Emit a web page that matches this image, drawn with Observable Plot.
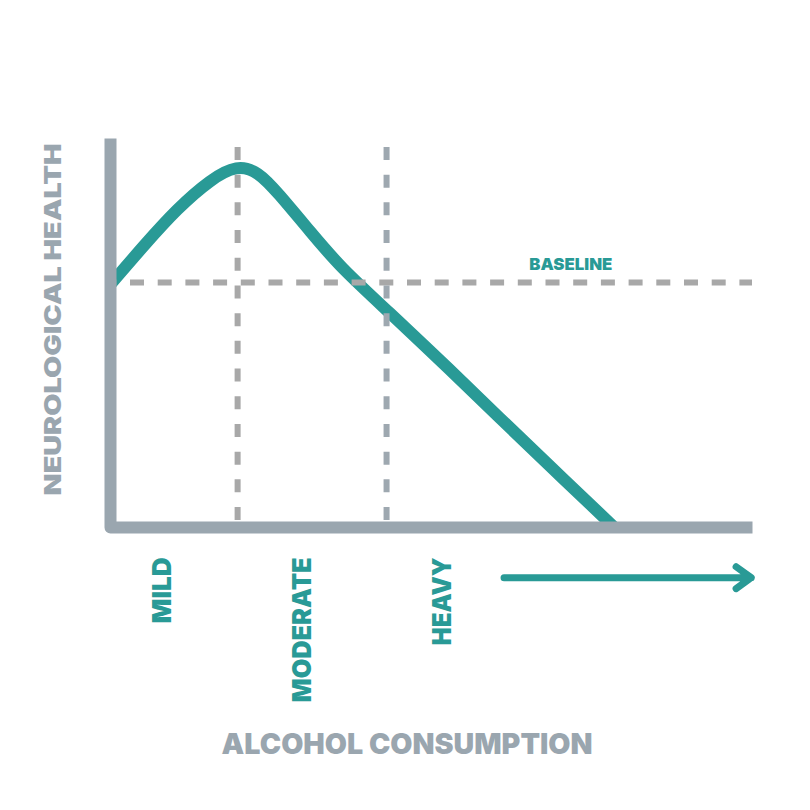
<!DOCTYPE html>
<html><head><meta charset="utf-8">
<script src="https://cdn.jsdelivr.net/npm/d3@7"></script>
<script src="https://cdn.jsdelivr.net/npm/@observablehq/plot@0.6"></script>
<style>body{margin:0;background:#fff}</style>
</head><body><div id="chart"></div>
<script>
// Curve: neurological health vs alcohol consumption (arbitrary units 0–10)
const curveX = [0, 0.52, 1.04, 1.56, 1.97, 2.30, 2.60, 3.12, 3.58, 4.31, 5.30, 6.07, 6.85, 7.85];
const curveY = [6.25, 7.25, 8.20, 8.95, 9.32, 9.15, 8.62, 7.59, 6.69, 5.58, 4.04, 2.80, 1.57, 0];
const categories = ["MILD", "MODERATE", "HEAVY"];
const categoryX = [0.81, 3.0, 5.18];
const categoryY = -0.77;
const markerX = [1.98, 4.30];
const markerTop = 9.77;
const baselineY = 6.30;
const baselineLabel = "BASELINE";
const baselineLabelPos = [7.17, 6.76];
const axisPathX = [0, 0, 10];
const axisPathY = [10, 0, 0];
const arrowX = [6.13, 9.98];
const arrowY = -1.29;
const xTitle = "ALCOHOL CONSUMPTION";
const xTitlePos = [4.62, -5.59];
const yTitle = "NEUROLOGICAL HEALTH";
const yTitlePos = [-0.88, 5.35];

const teal = "#299a96";
const axisGray = "#9aa6af";
const dashGray = "#a8a8a8";
const font = "Inter, Lato, 'DejaVu Sans', sans-serif";

const curve = curveX.map((x, i) => ({x, y: curveY[i]}));
const axisPath = axisPathX.map((x, i) => ({x, y: axisPathY[i]}));
const cats = categories.map((c, i) => ({label: c, x: categoryX[i], y: categoryY}));

const plot = Plot.plot({
  width: 810, height: 810,
  marginTop: 0, marginRight: 0, marginBottom: 0, marginLeft: 0,
  x: {domain: [0, 10], range: [110, 752]},
  y: {domain: [0, 10], range: [527, 138]},
  axis: null,
  style: {background: "#fff", fontFamily: font},
  marks: [
    Plot.line(curve, {x: "x", y: "y", curve: "basis", stroke: teal, strokeWidth: 12, strokeLinecap: "butt"}),
    Plot.ruleY([baselineY], {y: d => d, x1: () => 0, x2: () => 10, stroke: dashGray, strokeWidth: 6, strokeDasharray: "14,13.7", strokeDashoffset: 7.7}),
    Plot.ruleX([markerX[0]], {x: d => d, y1: () => markerTop, y2: () => 0, stroke: dashGray, strokeWidth: 6, strokeDasharray: "13,14.7"}),
    Plot.ruleX([markerX[1]], {x: d => d, y1: () => markerTop, y2: () => 0, stroke: "#9ea8b0", strokeWidth: 6, strokeDasharray: "13,14.7"}),
    Plot.line(axisPath, {x: "x", y: "y", stroke: axisGray, strokeWidth: 12, strokeLinejoin: "round", strokeLinecap: "butt"}),
    Plot.text([baselineLabel], {x: () => baselineLabelPos[0], y: () => baselineLabelPos[1], text: d => d, fill: teal, fontSize: 16.5, fontWeight: 900}),
    Plot.text(cats, {x: "x", y: "y", text: "label", rotate: -90, textAnchor: "end", fill: teal, fontSize: 26, fontWeight: 900}),
    Plot.arrow([0], {x1: () => arrowX[0], x2: () => arrowX[1], y1: () => arrowY, y2: () => arrowY, stroke: teal, strokeWidth: 7, headLength: 4, headAngle: 72, strokeLinecap: "round", strokeLinejoin: "round"}),
    Plot.text([xTitle], {x: () => xTitlePos[0], y: () => xTitlePos[1], text: d => d, fill: axisGray, fontSize: 29, fontWeight: 900}),
    Plot.text([yTitle], {x: () => yTitlePos[0], y: () => yTitlePos[1], text: d => d, rotate: -90, fill: axisGray, fontSize: 23, fontWeight: 900})
  ]
});
document.getElementById("chart").appendChild(plot);
// match the reference text run lengths
const textLengths = {"NEUROLOGICAL HEALTH": 352, "ALCOHOL CONSUMPTION": 371, "BASELINE": 83, "MILD": 66, "MODERATE": 145, "HEAVY": 88};
d3.select(plot).selectAll("text").each(function() {
  const L = textLengths[this.textContent];
  if (L) d3.select(this).attr("textLength", L).attr("lengthAdjust", "spacingAndGlyphs");
});
</script>
</body></html>
